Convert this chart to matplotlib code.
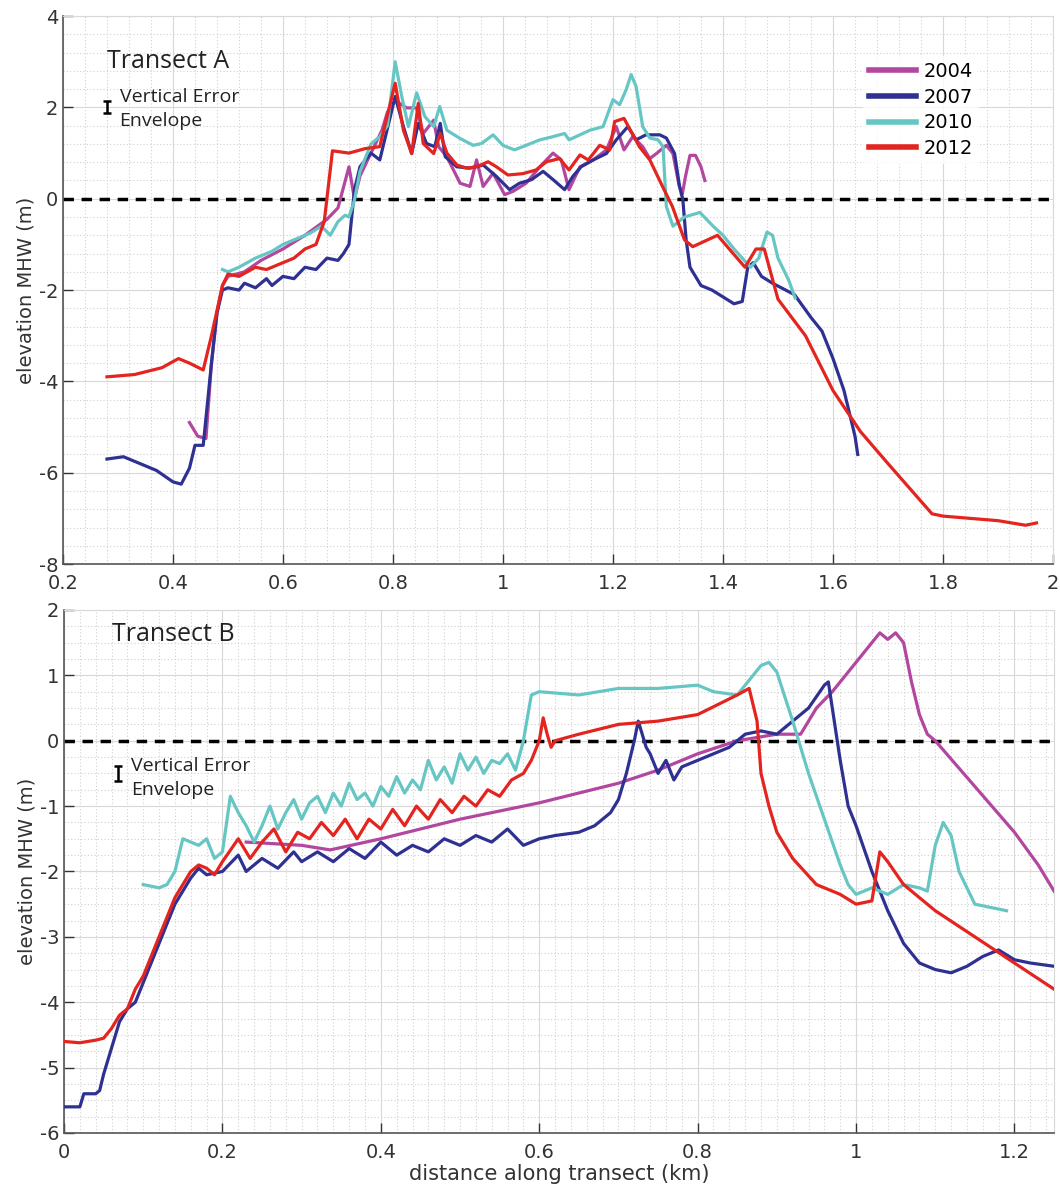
import numpy as np
import matplotlib
matplotlib.use("Agg")
import matplotlib.pyplot as plt
from matplotlib.ticker import MultipleLocator

# ---- Transect A (top panel) ----
a_x_2004 = [0.43, 0.445, 0.46, 0.47, 0.48, 0.49, 0.5, 0.53, 0.56, 0.6, 0.64, 0.68, 0.7, 0.72, 0.73, 0.74,
            0.76, 0.78, 0.79, 0.804, 0.825, 0.843, 0.855, 0.874, 0.883, 0.898, 0.922, 0.94, 0.952, 0.964,
            0.982, 1.003, 1.018, 1.042, 1.067, 1.091, 1.106, 1.12, 1.14, 1.164, 1.188, 1.206, 1.22, 1.236,
            1.254, 1.267, 1.279, 1.297, 1.309, 1.32, 1.326, 1.332, 1.34, 1.35, 1.36, 1.367]
a_y_2004 = [-4.9, -5.2, -5.25, -3.6, -2.5, -1.9, -1.7, -1.6, -1.35, -1.1, -0.8, -0.45, -0.2, 0.7, 0.0, 0.5,
            1.0, 1.5, 1.9, 2.15, 1.99, 1.99, 1.43, 1.72, 1.14, 0.92, 0.34, 0.27, 0.85, 0.27,
            0.56, 0.09, 0.16, 0.34, 0.70, 1.0, 0.85, 0.20, 0.70, 0.85, 1.07, 1.58, 1.07, 1.36,
            1.14, 0.88, 0.99, 1.17, 0.99, 0.3, 0.1, 0.5, 0.95, 0.95, 0.7, 0.4]

a_x_2007 = [0.28, 0.31, 0.33, 0.37, 0.40, 0.415, 0.43, 0.44, 0.455, 0.47, 0.48, 0.49, 0.5, 0.52, 0.53,
            0.55, 0.57, 0.58, 0.6, 0.62, 0.64, 0.66, 0.68, 0.7, 0.71, 0.72, 0.73, 0.74, 0.76, 0.776,
            0.804, 0.819, 0.834, 0.846, 0.861, 0.876, 0.886, 0.895, 0.916, 0.94, 0.964, 0.988, 1.012,
            1.03, 1.052, 1.073, 1.091, 1.112, 1.127, 1.142, 1.164, 1.188, 1.206, 1.227, 1.242, 1.26,
            1.285, 1.297, 1.312, 1.321, 1.327, 1.333, 1.34, 1.36, 1.38, 1.4, 1.42, 1.435, 1.445, 1.455,
            1.47, 1.49, 1.53, 1.56, 1.58, 1.6, 1.62, 1.64, 1.645]
a_y_2007 = [-5.7, -5.65, -5.75, -5.95, -6.2, -6.25, -5.9, -5.4, -5.4, -3.6, -2.5, -2.0, -1.95, -2.0, -1.85,
            -1.95, -1.75, -1.9, -1.7, -1.75, -1.5, -1.55, -1.3, -1.35, -1.2, -1.0, 0.2, 0.7, 1.0, 0.85,
            2.24, 1.58, 0.99, 1.65, 1.21, 1.14, 1.65, 0.92, 0.70, 0.67, 0.74, 0.49, 0.20,
            0.34, 0.42, 0.60, 0.42, 0.20, 0.49, 0.70, 0.85, 0.99, 1.29, 1.58, 1.29, 1.40,
            1.40, 1.33, 0.99, 0.27, -0.02, -0.9, -1.5, -1.9, -2.0, -2.15, -2.3, -2.25, -1.5, -1.4,
            -1.7, -1.85, -2.1, -2.6, -2.9, -3.5, -4.2, -5.2, -5.6]

a_x_2010 = [0.49, 0.5, 0.52, 0.55, 0.58, 0.6, 0.62, 0.65, 0.67, 0.686, 0.7, 0.713, 0.72, 0.73, 0.74,
            0.76, 0.776, 0.79, 0.804, 0.816, 0.828, 0.843, 0.858, 0.874, 0.885, 0.898, 0.922, 0.946, 0.961,
            0.982, 1.0, 1.021, 1.042, 1.067, 1.091, 1.112, 1.12, 1.14, 1.158, 1.182, 1.2, 1.212, 1.224,
            1.233, 1.242, 1.254, 1.267, 1.282, 1.291, 1.297, 1.309, 1.33, 1.358, 1.382, 1.4, 1.42, 1.45,
            1.465, 1.48, 1.49, 1.5, 1.52, 1.531]
a_y_2010 = [-1.55, -1.6, -1.5, -1.3, -1.15, -1.0, -0.9, -0.75, -0.6, -0.8, -0.5, -0.36, -0.4, -0.03, 0.6,
            1.2, 1.36, 1.6, 3.0, 2.24, 1.58, 2.32, 1.80, 1.58, 2.02, 1.50, 1.32, 1.17, 1.21,
            1.40, 1.17, 1.07, 1.17, 1.29, 1.36, 1.43, 1.29, 1.40, 1.50, 1.58, 2.17, 2.06, 2.39,
            2.72, 2.46, 1.58, 1.33, 1.29, 1.14, -0.17, -0.6, -0.4, -0.3, -0.6, -0.8, -1.1, -1.5,
            -1.3, -0.73, -0.8, -1.3, -1.8, -2.17]

a_x_2012 = [0.28, 0.33, 0.38, 0.41, 0.43, 0.455, 0.47, 0.49, 0.5, 0.52, 0.55, 0.57, 0.6, 0.62, 0.64,
            0.66, 0.675, 0.69, 0.72, 0.75, 0.776, 0.804, 0.819, 0.834, 0.846, 0.855, 0.874, 0.886, 0.898,
            0.916, 0.934, 0.952, 0.973, 0.988, 1.009, 1.036, 1.06, 1.079, 1.103, 1.12, 1.14, 1.155,
            1.176, 1.194, 1.203, 1.22, 1.248, 1.267, 1.29, 1.308, 1.33, 1.345, 1.39, 1.44, 1.46, 1.475,
            1.5, 1.55, 1.6, 1.65, 1.7, 1.78, 1.8, 1.85, 1.9, 1.95, 1.97]
a_y_2012 = [-3.9, -3.85, -3.7, -3.5, -3.6, -3.75, -3.0, -1.9, -1.65, -1.7, -1.5, -1.55, -1.4, -1.3, -1.1,
            -1.0, -0.5, 1.05, 1.0, 1.1, 1.14, 2.53, 1.50, 0.99, 2.09, 1.21, 0.99, 1.43, 1.0,
            0.74, 0.67, 0.70, 0.81, 0.70, 0.52, 0.55, 0.63, 0.81, 0.88, 0.63, 0.96, 0.85,
            1.17, 1.07, 1.69, 1.76, 1.14, 0.85, 0.27, -0.17, -0.9, -1.05, -0.8, -1.5, -1.1, -1.1,
            -2.2, -3.0, -4.2, -5.1, -5.8, -6.9, -6.95, -7.0, -7.05, -7.15, -7.1]

# ---- Transect B (bottom panel) ----
b_x_2004 = [0.23, 0.3, 0.336, 0.4, 0.5, 0.6, 0.7, 0.75, 0.8, 0.85, 0.9, 0.93, 0.95, 0.97, 1.0, 1.02,
            1.03, 1.04, 1.05, 1.06, 1.07, 1.08, 1.09, 1.1, 1.15, 1.2, 1.23, 1.25]
b_y_2004 = [-1.55, -1.6, -1.67, -1.5, -1.2, -0.95, -0.65, -0.45, -0.2, 0.0, 0.1, 0.1, 0.5, 0.75, 1.2, 1.5,
            1.65, 1.55, 1.65, 1.5, 0.9, 0.4, 0.1, 0.0, -0.7, -1.4, -1.9, -2.3]

b_x_2007 = [0.0, 0.01, 0.02, 0.025, 0.04, 0.045, 0.05, 0.07, 0.08, 0.09, 0.1, 0.12, 0.14, 0.16, 0.17,
            0.18, 0.2, 0.22, 0.23, 0.25, 0.27, 0.29, 0.3, 0.32, 0.34, 0.36, 0.38, 0.4, 0.42, 0.44, 0.46,
            0.48, 0.5, 0.52, 0.54, 0.56, 0.58, 0.6, 0.62, 0.65, 0.67, 0.69, 0.7, 0.71, 0.72, 0.725,
            0.735, 0.74, 0.75, 0.76, 0.77, 0.78, 0.8, 0.82, 0.84, 0.86, 0.88, 0.9, 0.92, 0.94, 0.96,
            0.965, 0.97, 0.98, 0.99, 1.0, 1.02, 1.04, 1.06, 1.08, 1.1, 1.12, 1.14, 1.16, 1.18, 1.2,
            1.22, 1.25]
b_y_2007 = [-5.6, -5.6, -5.6, -5.4, -5.4, -5.35, -5.1, -4.3, -4.1, -4.0, -3.7, -3.1, -2.5, -2.1, -1.95,
            -2.05, -2.0, -1.75, -2.0, -1.8, -1.95, -1.7, -1.85, -1.7, -1.85, -1.65, -1.8, -1.55, -1.75, -1.6, -1.7,
            -1.5, -1.6, -1.45, -1.55, -1.35, -1.6, -1.5, -1.45, -1.4, -1.3, -1.1, -0.9, -0.5, 0.0, 0.3,
            -0.1, -0.2, -0.5, -0.3, -0.6, -0.4, -0.3, -0.2, -0.1, 0.1, 0.15, 0.1, 0.3, 0.5, 0.85,
            0.9, 0.5, -0.3, -1.0, -1.3, -2.0, -2.6, -3.1, -3.4, -3.5, -3.55, -3.45, -3.3, -3.2, -3.35,
            -3.4, -3.45]

b_x_2010 = [0.1, 0.12, 0.13, 0.14, 0.15, 0.16, 0.17, 0.18, 0.19, 0.2, 0.21, 0.22, 0.23, 0.24, 0.25,
            0.26, 0.27, 0.28, 0.29, 0.3, 0.31, 0.32, 0.33, 0.34, 0.35, 0.36, 0.37, 0.38, 0.39, 0.4,
            0.41, 0.42, 0.43, 0.44, 0.45, 0.46, 0.47, 0.48, 0.49, 0.5, 0.51, 0.52, 0.53, 0.54, 0.55,
            0.56, 0.57, 0.58, 0.59, 0.6, 0.65, 0.7, 0.75, 0.8, 0.82, 0.85, 0.87, 0.88, 0.89, 0.9,
            0.92, 0.94, 0.96, 0.98, 0.99, 1.0, 1.02, 1.04, 1.06, 1.08, 1.09, 1.1, 1.11, 1.12, 1.13,
            1.15, 1.17, 1.19]
b_y_2010 = [-2.2, -2.25, -2.2, -2.0, -1.5, -1.55, -1.6, -1.5, -1.8, -1.7, -0.85, -1.1, -1.3, -1.55, -1.3,
            -1.0, -1.35, -1.1, -0.9, -1.2, -0.95, -0.85, -1.1, -0.8, -1.0, -0.65, -0.9, -0.8, -1.0, -0.7,
            -0.85, -0.55, -0.8, -0.6, -0.75, -0.3, -0.6, -0.4, -0.65, -0.2, -0.45, -0.25, -0.5, -0.3, -0.35,
            -0.2, -0.45, 0.0, 0.7, 0.75, 0.7, 0.8, 0.8, 0.85, 0.75, 0.7, 1.0, 1.15, 1.2, 1.05,
            0.3, -0.5, -1.2, -1.9, -2.2, -2.35, -2.25, -2.35, -2.2, -2.25, -2.3, -1.6, -1.25, -1.45, -2.0,
            -2.5, -2.55, -2.6]

b_x_2012 = [0.0, 0.02, 0.04, 0.05, 0.06, 0.07, 0.08, 0.09, 0.1, 0.12, 0.14, 0.16, 0.17, 0.18, 0.19,
            0.2, 0.22, 0.235, 0.25, 0.265, 0.28, 0.295, 0.31, 0.325, 0.34, 0.355, 0.37, 0.385, 0.4,
            0.415, 0.43, 0.445, 0.46, 0.475, 0.49, 0.505, 0.52, 0.535, 0.55, 0.565, 0.58, 0.59, 0.6,
            0.605, 0.61, 0.615, 0.62, 0.65, 0.7, 0.75, 0.8, 0.85, 0.865, 0.875, 0.88, 0.89, 0.9, 0.92,
            0.95, 0.98, 1.0, 1.02, 1.03, 1.04, 1.06, 1.1, 1.15, 1.2, 1.25]
b_y_2012 = [-4.6, -4.62, -4.58, -4.55, -4.4, -4.2, -4.1, -3.8, -3.6, -3.0, -2.4, -2.0, -1.9, -1.95, -2.05,
            -1.85, -1.5, -1.8, -1.55, -1.35, -1.7, -1.4, -1.5, -1.25, -1.45, -1.2, -1.5, -1.2, -1.35,
            -1.05, -1.3, -1.0, -1.2, -0.9, -1.1, -0.85, -1.0, -0.75, -0.85, -0.6, -0.5, -0.3, 0.0,
            0.35, 0.1, -0.1, 0.0, 0.1, 0.25, 0.3, 0.4, 0.7, 0.8, 0.3, -0.5, -1.0, -1.4, -1.8,
            -2.2, -2.35, -2.5, -2.45, -1.7, -1.85, -2.2, -2.6, -3.0, -3.4, -3.8]

years = ["2004", "2007", "2010", "2012"]
colors = ["#b3469f", "#2e3192", "#66c6c4", "#e3241f"]

plt.rcParams['font.family'] = ['DejaVu Sans']

fig = plt.figure(figsize=(10.6, 11.93), dpi=100)
ax_a = fig.add_axes([0.0594, 0.5272, 0.934, 0.4593])
ax_b = fig.add_axes([0.0604, 0.0503, 0.934, 0.4384])


def style_axis(ax, xlim, ylim, xmaj, xmin, ymaj, ymin):
    ax.set_xlim(*xlim)
    ax.set_ylim(*ylim)
    ax.xaxis.set_major_locator(MultipleLocator(xmaj))
    ax.xaxis.set_minor_locator(MultipleLocator(xmin))
    ax.yaxis.set_major_locator(MultipleLocator(ymaj))
    ax.yaxis.set_minor_locator(MultipleLocator(ymin))
    ax.grid(which='major', color='#d8d8d8', lw=0.8, ls='-')
    ax.grid(which='minor', color='#d0d0d0', lw=0.8, ls=(0, (1, 2)))
    ax.set_axisbelow(True)
    ax.tick_params(which='major', direction='in', length=7, width=1, labelsize=14,
                   colors='#333333', top=False, right=False)
    ax.tick_params(axis='x', which='major', pad=7)
    ax.tick_params(which='minor', length=0)
    for side in ['left', 'bottom']:
        ax.spines[side].set_color('#555555')
        ax.spines[side].set_linewidth(1.2)
    for side in ['top', 'right']:
        ax.spines[side].set_color('#d8d8d8')
        ax.spines[side].set_linewidth(0.8)
    ax.axhline(0, color='black', lw=2.5, ls=(0, (3, 2.2)), zorder=1.5)
    ax.set_ylabel('elevation MHW (m)', fontsize=14, color='#333333', labelpad=2)


def fmt(v, pos):
    return ('%g' % v)


style_axis(ax_a, (0.2, 2.0), (-8, 4), 0.2, 0.04, 2, 0.4)
style_axis(ax_b, (0.0, 1.25), (-6, 2), 0.2, 0.02, 1, 0.25)
for ax in (ax_a, ax_b):
    ax.xaxis.set_major_formatter(plt.FuncFormatter(fmt))
    ax.yaxis.set_major_formatter(plt.FuncFormatter(fmt))

a_series = [(a_x_2004, a_y_2004), (a_x_2007, a_y_2007), (a_x_2010, a_y_2010), (a_x_2012, a_y_2012)]
b_series = [(b_x_2004, b_y_2004), (b_x_2007, b_y_2007), (b_x_2010, b_y_2010), (b_x_2012, b_y_2012)]

for (xs, ys), c, yr in zip(a_series, colors, years):
    ax_a.plot(xs, ys, color=c, lw=2.3, label=yr, zorder=3)
for (xs, ys), c in zip(b_series, colors):
    ax_b.plot(xs, ys, color=c, lw=2.3, zorder=3)

leg = ax_a.legend(loc='upper right', bbox_to_anchor=(0.935, 0.945), fontsize=14, frameon=True,
                  handlelength=2.4, handletextpad=0.4, labelspacing=0.35, borderpad=0.3)
leg.get_frame().set_edgecolor('none')
leg.get_frame().set_facecolor('white')
for h in leg.get_lines():
    h.set_linewidth(4)

# annotations
ax_a.text(0.28, 3.0, 'Transect A', fontsize=18, family='Open Sans', va='center', ha='left', color='#222222')
ax_a.errorbar([0.28], [2.0], yerr=[0.13], color='black', capsize=3, lw=1.8, capthick=1.8)
ax_a.text(0.303, 1.97, 'Vertical Error\nEnvelope', fontsize=14, family='Open Sans', va='center',
          ha='left', color='#222222', linespacing=1.45)

ax_b.text(0.06, 1.62, 'Transect B', fontsize=18, family='Open Sans', va='center', ha='left', color='#222222')
ax_b.errorbar([0.068], [-0.5], yerr=[0.12], color='black', capsize=3, lw=1.8, capthick=1.8)
ax_b.text(0.085, -0.57, 'Vertical Error\nEnvelope', fontsize=14, family='Open Sans', va='center',
          ha='left', color='#222222', linespacing=1.45)

ax_b.set_xlabel('distance along transect (km)', fontsize=15, color='#333333', labelpad=2)

fig.savefig('out.png', dpi=100, facecolor='white')
